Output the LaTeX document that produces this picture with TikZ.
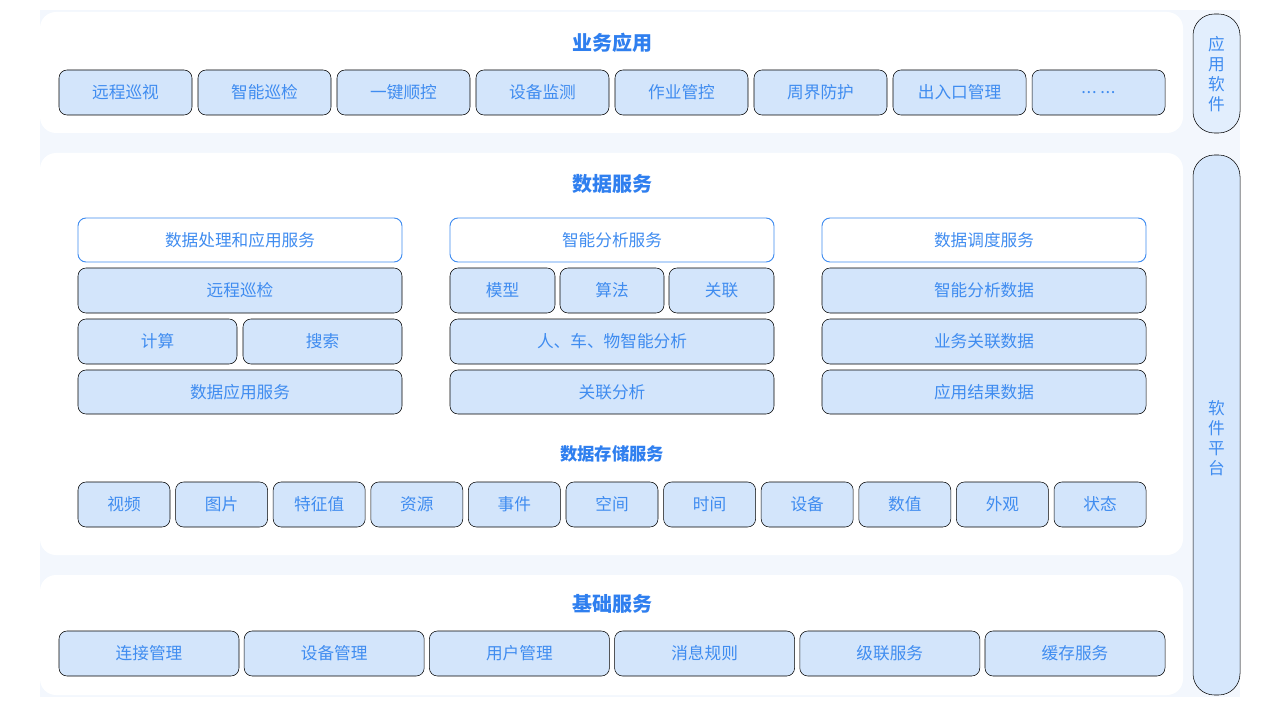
\documentclass[tikz,border=0pt]{standalone}
\usepackage{fontspec}
\setmainfont{Noto Sans CJK SC}
\usetikzlibrary{positioning}
\definecolor{bgband}{HTML}{F3F7FD}
\definecolor{chipfill}{HTML}{D3E5FB}
\definecolor{sidefill}{HTML}{D6E7FC}
\definecolor{txtblue}{HTML}{3F8CF0}
\definecolor{ttlblue}{HTML}{2F7FEF}
% Chip macro: name, x0, y0, x1, y1, text
\newcommand{\chipbox}[6]{%
  \draw[chip] (#2,#3) rectangle (#4,#5);
  \node[chip] (#1) at ({(#2+#4)/2},{(#3+#5)/2}) {#6};}

\begin{document}
\begin{tikzpicture}[x=0.75pt, y=-0.75pt,
    panel/.style={fill=white, rounded corners=12pt, draw=none},
    chip/.style={fill=chipfill, rounded corners=6pt, text=txtblue, font=\fontsize{12.5}{14}\selectfont, inner sep=0pt},
    headbox/.style={fill=white, draw=txtblue, line width=0.7pt, rounded corners=6pt, text=txtblue, font=\fontsize{12.5}{14}\selectfont},
    title/.style={text=ttlblue, font=\fontsize{15}{18}\selectfont\bfseries},
    subtitle/.style={text=ttlblue, font=\fontsize{13}{16}\selectfont\bfseries},
    sidepill/.style={fill=sidefill, rounded corners=16pt, text=txtblue, font=\fontsize{12.5}{15}\selectfont, align=center}
]
\useasboundingbox (0,0) rectangle (1280,720);
\fill[white] (0,0) rectangle (1280,720);
\fill[bgband] (40,10) rectangle (1240,697);

% Application layer
\draw[panel] (40,12) rectangle (1183,133);
\node[title] (apptitle) at (612,43) {业务应用};
\foreach \t [count=\i from 0] in {远程巡视,智能巡检,一键顺控,设备监测,作业管控,周界防护,出入口管理,{.\kern0.5pt.\kern0.5pt.\ .\kern0.5pt.\kern0.5pt.}}
  \chipbox{app\i}{59+139*\i}{70}{192+139*\i}{115}{\t};

% Data services
\draw[panel] (40,153) rectangle (1183,555);
\node[title] (datatitle) at (612,184) {数据服务};
\foreach \h [count=\i from 0] in {数据处理和应用服务,智能分析服务,数据调度服务} {
  \draw[headbox] (78+372*\i,218) rectangle (402+372*\i,262);
  \node[text=txtblue, font=\fontsize{12.5}{14}\selectfont] (head\i) at (240+372*\i,240) {\h};
}
% column 1
\chipbox{pa}{78}{268}{402}{313}{远程巡检}
\chipbox{pb}{78}{319}{237}{364}{计算}
\chipbox{pc}{243}{319}{402}{364}{搜索}
\chipbox{pd}{78}{370}{402}{414}{数据应用服务}
% column 2
\chipbox{ia}{450}{268}{555}{313}{模型}
\chipbox{ib}{560}{268}{664}{313}{算法}
\chipbox{ic}{669}{268}{774}{313}{关联}
\chipbox{id}{450}{319}{774}{364}{人、车、物智能分析}
\chipbox{ie}{450}{370}{774}{414}{关联分析}
% column 3
\chipbox{sa}{822}{268}{1146}{313}{智能分析数据}
\chipbox{sb}{822}{319}{1146}{364}{业务关联数据}
\chipbox{sc}{822}{370}{1146}{414}{应用结果数据}

% Storage
\node[subtitle] (storetitle) at (612,454) {数据存储服务};
\foreach \t [count=\i from 0] in {视频,图片,特征值,资源,事件,空间,时间,设备,数值,外观,状态}
  \chipbox{st\i}{78+97.6*\i}{482}{170+97.6*\i}{527}{\t};

% Base services
\draw[panel] (40,575) rectangle (1183,695);
\node[title] (basetitle) at (612,604) {基础服务};
\foreach \t [count=\i from 0] in {连接管理,设备管理,用户管理,消息规则,级联服务,缓存服务}
  \chipbox{bs\i}{59+185.2*\i}{631}{239+185.2*\i}{676}{\t};

% Side labels
\draw[sidepill, fill=sidefill!70] (1193,14) rectangle (1240,133);
\node[text=txtblue, font=\fontsize{12.5}{15}\selectfont, align=center] (sideapp) at (1216.5,74) {应\\用\\软\\件};
\draw[sidepill] (1193,155) rectangle (1240,695);
\node[text=txtblue, font=\fontsize{12.5}{15}\selectfont, align=center] (sideplat) at (1216.5,438) {软\\件\\平\\台};
\end{tikzpicture}
\end{document}
